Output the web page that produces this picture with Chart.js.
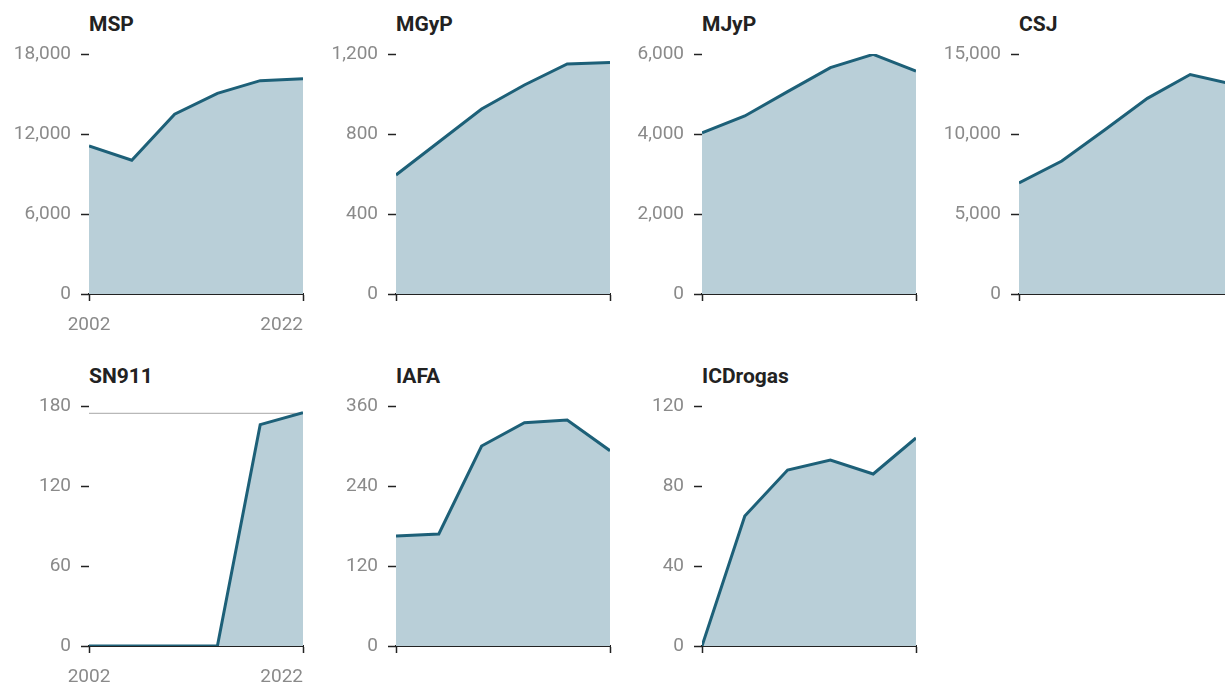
<!DOCTYPE html>
<html>
<head>
<meta charset="utf-8">
<script src="https://cdn.jsdelivr.net/npm/chart.js@4.4.1/dist/chart.umd.min.js"></script>
<style>
  html, body { margin: 0; padding: 0; background: #fff; overflow: hidden; }
  body { width: 1225px; height: 685px; position: relative; font-family: Roboto, sans-serif; }
  canvas { position: absolute; }
  .title { position: absolute; font-size: 21px; line-height: 21px; font-weight: bold; color: #222; white-space: nowrap; }
</style>
</head>
<body>
<script>
// years shared by every panel
const years = [2002, 2006, 2010, 2014, 2018, 2022];

// series values
const msp = [11100, 10030, 13480, 15050, 16000, 16150];
const mgyp = [595, 760, 925, 1045, 1150, 1157];
const mjyp = [4030, 4450, 5060, 5660, 5990, 5575];
const csj = [6940, 8310, 10250, 12230, 13720, 13100];
const sn911 = [0, 0, 0, 0, 166, 175];
const sn911Ref = [174.5, 174.5, 174.5, 174.5, 174.5, 174.5];
const iafa = [165, 168, 300, 335, 339, 293];
const icdrogas = [0, 65, 88, 93, 86, 104];

// y axis ticks per panel
const mspTicks = [0, 6000, 12000, 18000];
const mgypTicks = [0, 400, 800, 1200];
const mjypTicks = [0, 2000, 4000, 6000];
const csjTicks = [0, 5000, 10000, 15000];
const sn911Ticks = [0, 60, 120, 180];
const iafaTicks = [0, 120, 240, 360];
const icdrogasTicks = [0, 40, 80, 120];

const lineColor = "#1d6078";
const fillColor = "#b9cfd8";
const tickText = "#8a8a8a";
const axisColor = "#222";

const colLeft = [89, 396, 702, 1019];
const rowTop = [54, 406];
const plotW = 214, plotH = 240;
// the chart keeps ~13px free on the right of the plot
const yAxisW = 89, xAxisH = 45, padTop = 54, padRight = 8, rightGap = 13;

const panels = [
  { title: "MSP", values: msp, ticks: mspTicks, col: 0, row: 0, years: true },
  { title: "MGyP", values: mgyp, ticks: mgypTicks, col: 1, row: 0 },
  { title: "MJyP", values: mjyp, ticks: mjypTicks, col: 2, row: 0 },
  { title: "CSJ", values: csj, ticks: csjTicks, col: 3, row: 0 },
  { title: "SN911", values: sn911, ticks: sn911Ticks, col: 0, row: 1, years: true, ref: sn911Ref },
  { title: "IAFA", values: iafa, ticks: iafaTicks, col: 1, row: 1 },
  { title: "ICDrogas", values: icdrogas, ticks: icdrogasTicks, col: 2, row: 1 }
];

// first year label centred on its tick, last one ends at its tick
const yearLabelAlign = {
  id: "yearLabelAlign",
  beforeDraw(chart) {
    const items = chart.scales.x.getLabelItems();
    if (items.length) items[0].options.textAlign = "center";
  }
};

panels.forEach((p) => {
  const left = colLeft[p.col] - yAxisW;
  const top = rowTop[p.row] - padTop;

  const title = document.createElement("div");
  title.className = "title";
  title.textContent = p.title;
  title.style.left = colLeft[p.col] + "px";
  title.style.top = (rowTop[p.row] - 40) + "px";
  document.body.appendChild(title);

  const canvas = document.createElement("canvas");
  canvas.width = yAxisW + plotW + rightGap;
  canvas.height = padTop + plotH + xAxisH;
  canvas.style.left = left + "px";
  canvas.style.top = top + "px";
  document.body.appendChild(canvas);

  const datasets = [{
    data: years.map((y, i) => ({ x: y, y: p.values[i] })),
    borderColor: lineColor,
    backgroundColor: fillColor,
    borderWidth: 3,
    fill: "origin",
    pointRadius: 0,
    tension: 0
  }];
  if (p.ref) {
    datasets.push({
      data: years.map((y, i) => ({ x: y, y: p.ref[i] })),
      borderColor: "#b8b8b8",
      borderWidth: 1.2,
      fill: false,
      pointRadius: 0
    });
  }

  new Chart(canvas, {
    type: "line",
    data: { datasets },
    plugins: [yearLabelAlign],
    options: {
      responsive: false,
      animation: false,
      layout: { padding: { top: padTop, right: padRight, left: 0, bottom: 0 } },
      plugins: { legend: { display: false }, tooltip: { enabled: false } },
      scales: {
        x: {
          type: "linear",
          min: years[0],
          max: years[years.length - 1],
          afterBuildTicks: (s) => { s.ticks = [{ value: years[0] }, { value: years[years.length - 1] }]; },
          afterFit: (s) => { s.height = xAxisH; },
          border: { display: true, color: axisColor, width: 2 },
          grid: { drawOnChartArea: false, drawTicks: true, tickLength: 7, tickColor: axisColor, tickWidth: 1.5 },
          ticks: {
            align: "inner",
            padding: 13,
            maxRotation: 0,
            color: tickText,
            font: { family: "Roboto", size: 19 },
            callback: (v) => (p.years ? String(v) : "")
          }
        },
        y: {
          min: p.ticks[0],
          max: p.ticks[p.ticks.length - 1],
          afterBuildTicks: (s) => { s.ticks = p.ticks.map((v) => ({ value: v })); },
          afterFit: (s) => { s.width = yAxisW; },
          border: { display: false },
          grid: { drawOnChartArea: false, drawTicks: true, tickLength: 8, tickColor: axisColor, tickWidth: 1.5 },
          ticks: {
            padding: 10,
            color: tickText,
            font: { family: "Roboto", size: 19 },
            callback: (v) => v.toLocaleString("en-US")
          }
        }
      }
    }
  });
});
</script>
</body>
</html>
